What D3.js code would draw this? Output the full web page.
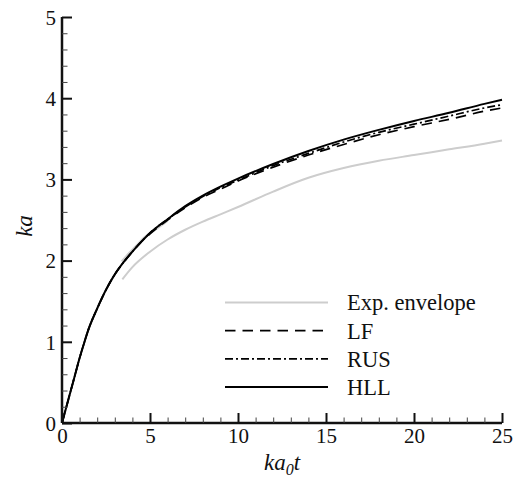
<!DOCTYPE html>
<html>
<head>
<meta charset="utf-8">
<script src="https://cdn.jsdelivr.net/npm/d3@7"></script>
<style>
  html, body { margin: 0; padding: 0; background: #fff; }
  svg { display: block; }
</style>
</head>
<body>
<svg id="chart" width="516" height="480"></svg>
<script>
// Growth of ka against ka0 t for three schemes and the experimental envelope
const hllX = [0, 0.25, 0.5, 0.75, 1, 1.25, 1.5, 2, 2.5, 3, 3.5, 4, 4.5, 5, 6, 7, 8, 9, 10, 12, 14, 16, 18, 20, 22, 24, 25];
const hllY = [0, 0.20, 0.40, 0.60, 0.80, 0.98, 1.15, 1.41, 1.64, 1.83, 1.98, 2.11, 2.23, 2.34, 2.51, 2.67, 2.80, 2.91, 3.01, 3.19, 3.35, 3.49, 3.61, 3.72, 3.82, 3.93, 3.98];

const lfX = [0, 0.25, 0.5, 0.75, 1, 1.25, 1.5, 2, 2.5, 3, 3.5, 4, 4.5, 5, 6, 7, 8, 9, 10, 12, 14, 16, 18, 20, 22, 24, 25];
const lfY = [0, 0.20, 0.40, 0.60, 0.80, 0.98, 1.15, 1.41, 1.64, 1.83, 1.98, 2.11, 2.23, 2.33, 2.50, 2.65, 2.78, 2.88, 2.98, 3.15, 3.30, 3.43, 3.55, 3.65, 3.74, 3.84, 3.88];

const rusX = [0, 0.25, 0.5, 0.75, 1, 1.25, 1.5, 2, 2.5, 3, 3.5, 4, 4.5, 5, 6, 7, 8, 9, 10, 12, 14, 16, 18, 20, 22, 24, 25];
const rusY = [0, 0.20, 0.40, 0.60, 0.80, 0.98, 1.15, 1.41, 1.64, 1.83, 1.98, 2.11, 2.23, 2.34, 2.51, 2.66, 2.79, 2.90, 2.99, 3.17, 3.32, 3.46, 3.58, 3.68, 3.78, 3.88, 3.92];

// Experimental envelope: upper and lower bounds
const expUpperX = [3.39, 3.8, 4.2, 4.7, 5.3, 6.0];
const expUpperY = [1.99, 2.09, 2.18, 2.29, 2.38, 2.49];
const expLowerX = [3.43, 4, 5, 6, 7, 8, 9, 10, 12, 14, 16, 18, 20, 22, 24, 25];
const expLowerY = [1.77, 1.92, 2.11, 2.26, 2.38, 2.48, 2.57, 2.66, 2.85, 3.02, 3.14, 3.23, 3.30, 3.37, 3.44, 3.48];

const xTicks = [0, 5, 10, 15, 20, 25];
const yTicks = [0, 1, 2, 3, 4, 5];
const legendLabels = ["Exp. envelope", "LF", "RUS", "HLL"];

const SERIF = '"Liberation Serif"';

const svg = d3.select("#chart");
const padL = 62, padR = 502, padT = 17, padB = 423;

const x = d3.scaleLinear().domain([0, 25]).range([padL, padR]);
const y = d3.scaleLinear().domain([0, 5]).range([padB, padT]);

const zip = (xs, ys) => xs.map((v, i) => [v, ys[i]]);
const line = d3.line().x(d => x(d[0])).y(d => y(d[1])).curve(d3.curveMonotoneX);

const styles = {
  exp: { stroke: "#cdcdcd", width: 2, dash: null },
  lf: { stroke: "#000", width: 1.7, dash: "10.5,7" },
  rus: { stroke: "#000", width: 1.7, dash: "8,3,2,3" },
  hll: { stroke: "#000", width: 2, dash: null }
};

const plot = svg.append("g");
function drawSeries(pts, st) {
  plot.append("path")
    .datum(pts)
    .attr("d", line)
    .attr("fill", "none")
    .attr("stroke", st.stroke)
    .attr("stroke-width", st.width)
    .attr("stroke-dasharray", st.dash);
}
drawSeries(zip(expUpperX, expUpperY), styles.exp);
drawSeries(zip(expLowerX, expLowerY), styles.exp);
drawSeries(zip(lfX, lfY), styles.lf);
drawSeries(zip(rusX, rusY), styles.rus);
drawSeries(zip(hllX, hllY), styles.hll);

// Axes with inward ticks
const xMinor = d3.range(0, 25.001, 1).filter(v => !xTicks.includes(v));
const yMinor = d3.range(0, 5.001, 0.2).map(v => +v.toFixed(1)).filter(v => !yTicks.includes(v));

const xAxis = svg.append("g").attr("transform", `translate(0,${padB})`);
xAxis.call(d3.axisBottom(x).tickValues(xTicks).tickSize(-10).tickPadding(5).tickFormat(d3.format("d")));
const xAxisMinor = svg.append("g").attr("transform", `translate(0,${padB})`);
xAxisMinor.call(d3.axisBottom(x).tickValues(xMinor).tickSize(-5.5).tickFormat(""));

const yAxis = svg.append("g").attr("transform", `translate(${padL},0)`);
yAxis.call(d3.axisLeft(y).tickValues(yTicks).tickSize(-10).tickPadding(6).tickFormat(d3.format("d")));
const yAxisMinor = svg.append("g").attr("transform", `translate(${padL},0)`);
yAxisMinor.call(d3.axisLeft(y).tickValues(yMinor).tickSize(-5.5).tickFormat(""));

[xAxis, yAxis].forEach(g => {
  g.select(".domain").attr("stroke", "#111").attr("stroke-width", 2.5);
  g.selectAll(".tick line").attr("stroke", "#111").attr("stroke-width", 2);
  g.selectAll(".tick text")
    .style("font-family", SERIF).style("font-size", "21px").attr("fill", "#111");
});
[xAxisMinor, yAxisMinor].forEach(g => {
  g.select(".domain").remove();
  g.selectAll(".tick line").attr("stroke", "#444").attr("stroke-width", 1);
});
// keep the axis lines flat, without outer ticks
xAxis.select(".domain").attr("d", `M${padL},0H${padR}`);
yAxis.select(".domain").attr("d", `M0,${padB}V${padT}`);
xAxis.selectAll(".tick text").attr("dy", "0.72em");
yAxis.selectAll(".tick text").attr("dy", "0.35em");

// Axis titles
svg.append("text")
  .attr("transform", `translate(32,${(padT + padB) / 2 + 6}) rotate(-90)`)
  .attr("text-anchor", "middle")
  .style("font-family", SERIF).style("font-size", "23px").style("font-style", "italic")
  .attr("fill", "#111")
  .text("ka");

const xt = svg.append("text")
  .attr("x", (padL + padR) / 2)
  .attr("y", 470)
  .attr("text-anchor", "middle")
  .style("font-family", SERIF).style("font-size", "23px").style("font-style", "italic")
  .attr("fill", "#111");
xt.append("tspan").text("ka");
xt.append("tspan").attr("dy", 5).style("font-size", "16px").text("0");
xt.append("tspan").attr("dy", -5).text("t");

// Legend
const legendStyles = [styles.exp, styles.lf, styles.rus, styles.hll];
const legend = svg.append("g");
legendLabels.forEach((lab, i) => {
  const ly = 302.5 + i * 28.2;
  const st = legendStyles[i];
  legend.append("line")
    .attr("x1", 225).attr("x2", 328).attr("y1", ly).attr("y2", ly)
    .attr("stroke", st.stroke).attr("stroke-width", st.width)
    .attr("stroke-dasharray", st.dash);
  legend.append("text")
    .attr("x", 347).attr("y", ly).attr("dy", "0.35em")
    .style("font-family", SERIF).style("font-size", "22.5px").attr("fill", "#111")
    .text(lab);
});
</script>
</body>
</html>
